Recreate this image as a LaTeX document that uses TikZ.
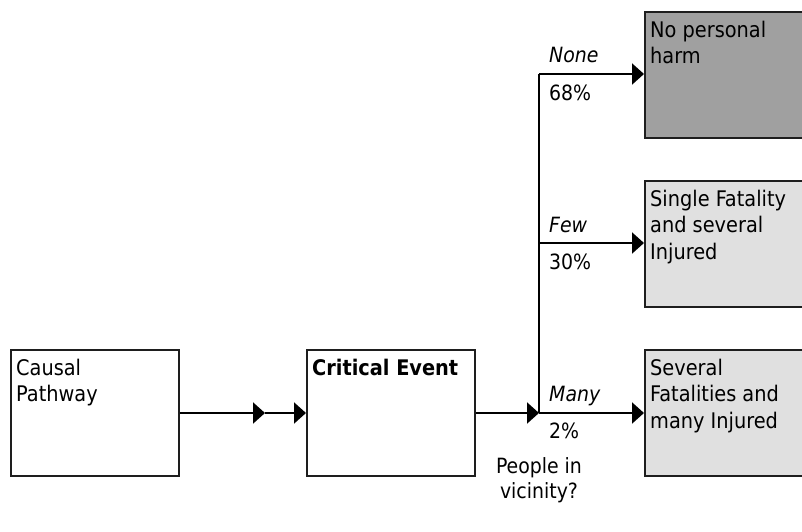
\documentclass[tikz,border=0pt]{standalone}
\usepackage{fontspec}
\setmainfont{DejaVu Sans Condensed}
\usetikzlibrary{arrows.meta}
\definecolor{darkfill}{RGB}{160,160,160}
\definecolor{lightfill}{RGB}{224,224,224}
\definecolor{edge}{RGB}{30,30,30}
\tikzset{
  box/.style={draw=edge, line width=2pt, inner sep=0pt, anchor=north west, minimum height=126pt},
  txt/.style={inner sep=0pt, anchor=north west, align=left, font=\fontsize{21.5}{26.5}\selectfont},
  lbl/.style={inner sep=0pt, anchor=base west, font=\fontsize{21}{25}\selectfont},
  conn/.style={line width=2pt, draw=black},
  tip/.style={-{Triangle[length=12pt,width=21pt]}},
}
\begin{document}
\begin{tikzpicture}[x=1pt,y=-1pt]
\clip (0,0) rectangle (802,531);
\fill[white] (0,0) rectangle (802,531);
% boxes
\node[box, minimum width=168pt] (cp) at (10,349) {};
\node[box, minimum width=168pt] (ce) at (306,349) {};
\node[box, minimum width=180pt, fill=darkfill] (o1) at (644,11) {};
\node[box, minimum width=180pt, fill=lightfill] (o2) at (644,180) {};
\node[box, minimum width=180pt, fill=lightfill] (o3) at (644,349) {};
% box texts
\node[txt] (tcp) at ([xshift=6pt,yshift=-7.5pt]cp.north west) {\strut Causal\\Pathway};
\node[txt] (tce) at ([xshift=6pt,yshift=-7.5pt]ce.north west) {\strut\textbf{Critical Event}};
\node[txt] (to1) at ([xshift=6pt,yshift=-7.5pt]o1.north west) {\strut No personal\\harm};
\node[txt] (to2) at ([xshift=6pt,yshift=-7.5pt]o2.north west) {\strut Single Fatality\\and several\\Injured};
\node[txt] (to3) at ([xshift=6pt,yshift=-7.5pt]o3.north west) {\strut Several\\Fatalities and\\many Injured};
% connectors
\coordinate (m1) at (265,413);
\coordinate (j) at (539,413);
\coordinate (jn) at (539,74);
\coordinate (jf) at (539,243);
\draw[conn, tip] (cp.east |- m1) -- (m1);
\draw[conn, tip] (m1) -- (ce.west |- m1);
\draw[conn, tip] (ce.east |- j) -- (j);
\draw[conn] (j) -- (jn);
\draw[conn, tip] (jn) -- (o1.west |- jn);
\draw[conn, tip] (jf) -- (o2.west |- jf);
\draw[conn, tip] (j) -- (o3.west |- j);
% branch labels
\node[lbl] (ln) at (549,62) {\textit{None}};
\node[lbl] (pn) at (549,100) {68\%};
\node[lbl] (lf) at (549,232) {\textit{Few}};
\node[lbl] (pf) at (549,269) {30\%};
\node[lbl] (lm) at (549,401) {\textit{Many}};
\node[lbl] (pm) at (549,438) {2\%};
\node[inner sep=0pt, anchor=base, align=center, font=\fontsize{21}{25}\selectfont] (q) at (539,498) {People in\\vicinity?};
\end{tikzpicture}
\end{document}
